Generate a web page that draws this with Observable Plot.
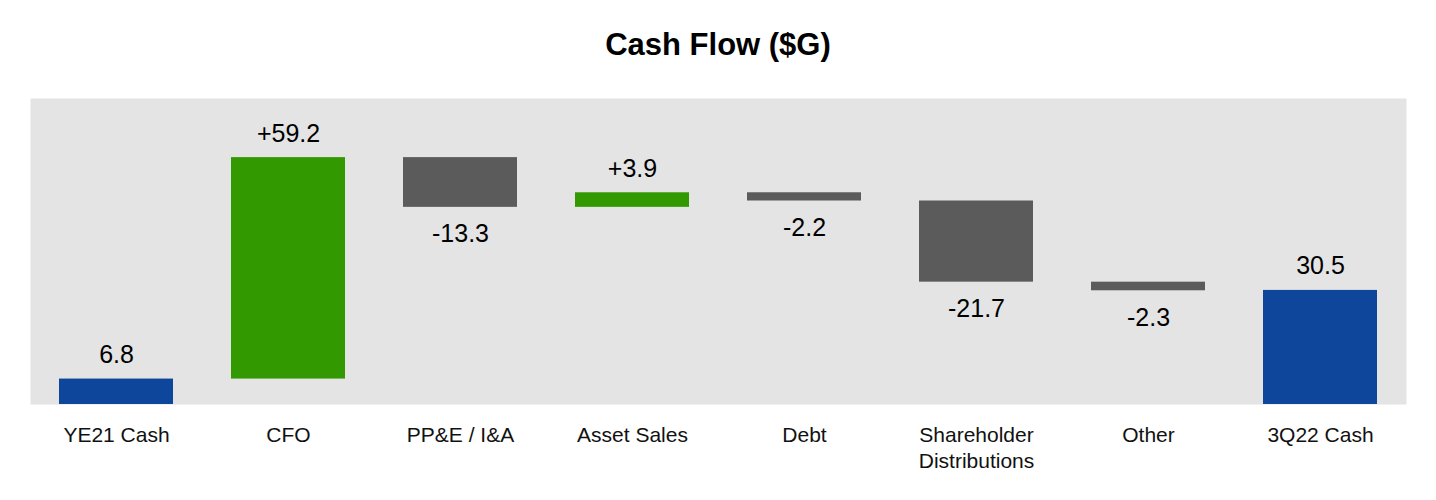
<!DOCTYPE html>
<html>
<head>
<meta charset="utf-8">
<script src="https://cdn.jsdelivr.net/npm/d3@7"></script>
<script src="https://cdn.jsdelivr.net/npm/@observablehq/plot@0.6"></script>
<style>
  body { margin: 0; background: #fff; font-family: "Liberation Sans", Arial, sans-serif; }
  #title { height: 90px; line-height: 90px; text-align: center; font-size: 31px; font-weight: bold; color: #000; overflow: hidden; }
</style>
</head>
<body>
<div id="title">Cash Flow ($G)</div>
<div id="chart"></div>
<script>
const categories = ["YE21 Cash", "CFO", "PP&E / I&A", "Asset Sales", "Debt", "Shareholder Distributions", "Other", "3Q22 Cash"];
const values = [6.8, 59.2, -13.3, 3.9, -2.2, -21.7, -2.3, 30.5];
const kinds = ["total", "delta", "delta", "delta", "delta", "delta", "delta", "total"];
const valueLabels = ["6.8", "+59.2", "-13.3", "+3.9", "-2.2", "-21.7", "-2.3", "30.5"];

const colors = {total: "#0e469c", up: "#339900", down: "#5b5b5b"};

let running = 0;
const data = categories.map((cat, i) => {
  let y1, y2, kind;
  if (kinds[i] === "total") {
    y1 = 0; y2 = values[i]; running = values[i]; kind = "total";
  } else {
    y1 = running; y2 = running + values[i]; running = y2; kind = values[i] >= 0 ? "up" : "down";
  }
  return {cat, y1, y2, top: Math.max(y1, y2), bottom: Math.min(y1, y2), kind, label: valueLabels[i], fill: colors[kind]};
});

const chart = Plot.plot({
  width: 1436,
  height: 396,
  marginTop: 8,
  marginBottom: 82,
  marginLeft: 30,
  marginRight: 30,
  style: {fontFamily: "'Liberation Sans', Arial, sans-serif", background: "transparent", overflow: "visible"},
  x: {type: "band", domain: categories, paddingInner: 0.337, paddingOuter: 0.1685, label: null},
  y: {domain: [0, 81.8], axis: null},
  color: {type: "identity"},
  marks: [
    Plot.frame({fill: "#e4e4e4", stroke: null}),
    Plot.barY(data, {x: "cat", y1: "y1", y2: "y2", fill: "fill"}),
    Plot.text(data.filter(d => d.kind !== "down"), {x: "cat", y: "top", text: "label", lineAnchor: "bottom", dy: -16, fontSize: 25, fill: "#000"}),
    Plot.text(data.filter(d => d.kind === "down"), {x: "cat", y: "bottom", text: "label", lineAnchor: "top", dy: 17, fontSize: 25, fill: "#000"}),
    Plot.axisX({tickSize: 0, tickPadding: 20, fontSize: 21, lineHeight: 1.2, fill: "#111", label: null,
      tickFormat: d => d.replace("Shareholder ", "Shareholder\n")})
  ]
});
document.getElementById("chart").appendChild(chart);
</script>
</body>
</html>
